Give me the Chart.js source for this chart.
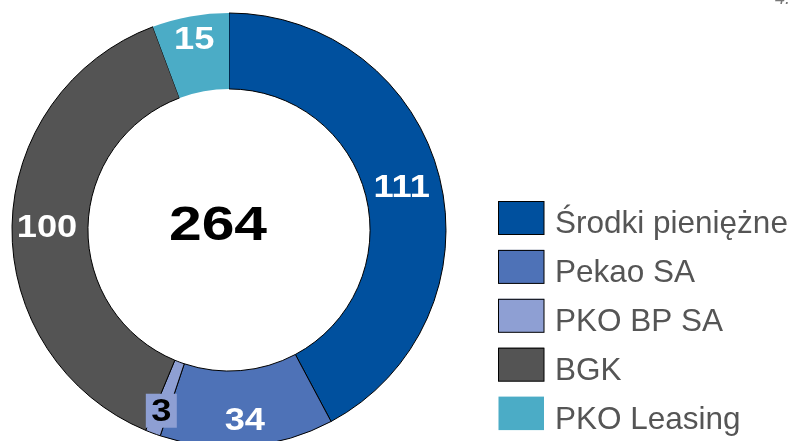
<!DOCTYPE html>
<html>
<head>
<meta charset="utf-8">
<script src="https://cdn.jsdelivr.net/npm/chart.js@4/dist/chart.umd.min.js"></script>
<style>
  html, body { margin: 0; padding: 0; background: #ffffff; overflow: hidden; }
  canvas { display: block; }
</style>
</head>
<body>
<canvas id="c" width="794" height="441"></canvas>
<script>
// ---- data ----
const categories = ['Środki pieniężne', 'Pekao SA', 'PKO BP SA', 'BGK', 'PKO Leasing'];
const values = [111, 34, 3, 100, 15];
const valueLabels = ['111', '34', '3', '100', '15'];
const totalLabel = '264';
const cornerNote = '4.';

// ---- style ----
const colors = ['#00509E', '#4E72B7', '#8E9FD3', '#545454', '#4BACC6'];
const borderWidths = [1, 1, 1, 1, 0];
const labelTextColors = ['#ffffff', '#ffffff', '#000000', '#ffffff', '#ffffff'];
const labelBoxColors = [null, null, '#8E9FD3', null, null];
const labelRadius = [178, 190, 193, 182, 195];

const labelsPlugin = {
  id: 'labelsPlugin',
  afterDatasetsDraw(chart) {
    const ctx = chart.ctx;
    const meta = chart.getDatasetMeta(0);
    ctx.save();
    meta.data.forEach((arc, i) => {
      const p = arc.getProps(['x', 'y', 'startAngle', 'endAngle'], true);
      const mid = (p.startAngle + p.endAngle) / 2;
      const r = labelRadius[i];
      const x = p.x + Math.cos(mid) * r;
      const y = p.y + Math.sin(mid) * r;
      if (labelBoxColors[i]) {
        ctx.fillStyle = labelBoxColors[i];
        ctx.fillRect(x - 15.5, y - 17, 31, 34);
      }
      ctx.save();
      ctx.translate(x, y);
      ctx.scale(1.17, 1);
      ctx.font = 'bold 31px "Liberation Sans", Arial, sans-serif';
      ctx.textAlign = 'center';
      ctx.textBaseline = 'middle';
      ctx.fillStyle = labelTextColors[i];
      ctx.fillText(valueLabels[i], 0, 2);
      ctx.restore();
    });
    // centre total
    const a0 = meta.data[0];
    ctx.save();
    ctx.translate(a0.x - 11, a0.y - 6);
    ctx.scale(1.2, 1);
    ctx.font = 'bold 49px "Liberation Sans", Arial, sans-serif';
    ctx.textAlign = 'center';
    ctx.textBaseline = 'middle';
    ctx.fillStyle = '#000000';
    ctx.fillText(totalLabel, 0, 2);
    ctx.restore();

    // legend
    const ds = chart.data.datasets[0];
    ctx.font = '31.5px "Liberation Sans", Arial, sans-serif';
    ctx.textAlign = 'left';
    ctx.textBaseline = 'alphabetic';
    chart.data.labels.forEach((lab, i) => {
      const top = 201 + 48.9 * i;
      ctx.fillStyle = ds.backgroundColor[i];
      ctx.fillRect(498.5, top, 45.5, 33.5);
      if (ds.borderWidth[i] > 0) {
        ctx.strokeStyle = '#000000';
        ctx.lineWidth = 1;
        ctx.strokeRect(498.5, top + 0.5, 45.5, 33);
      }
      ctx.fillStyle = '#555555';
      ctx.fillText(lab, 555, top + 32);
    });

    // corner note (cut off at top)
    ctx.font = 'italic 18px "Liberation Sans", Arial, sans-serif';
    ctx.fillStyle = '#777777';
    ctx.fillText(cornerNote, 775, 4);
    ctx.restore();
  }
};

new Chart(document.getElementById('c'), {
  type: 'doughnut',
  data: {
    labels: categories,
    datasets: [{
      data: values,
      backgroundColor: colors,
      borderColor: '#000000',
      borderWidth: borderWidths,
      clip: false
    }]
  },
  options: {
    responsive: false,
    animation: false,
    events: [],
    radius: 217,
    cutout: '65%',
    layout: { padding: { left: 0, right: 336, top: 19, bottom: 0 } },
    plugins: {
      legend: { display: false },
      tooltip: { enabled: false }
    }
  },
  plugins: [labelsPlugin]
});
</script>
</body>
</html>
